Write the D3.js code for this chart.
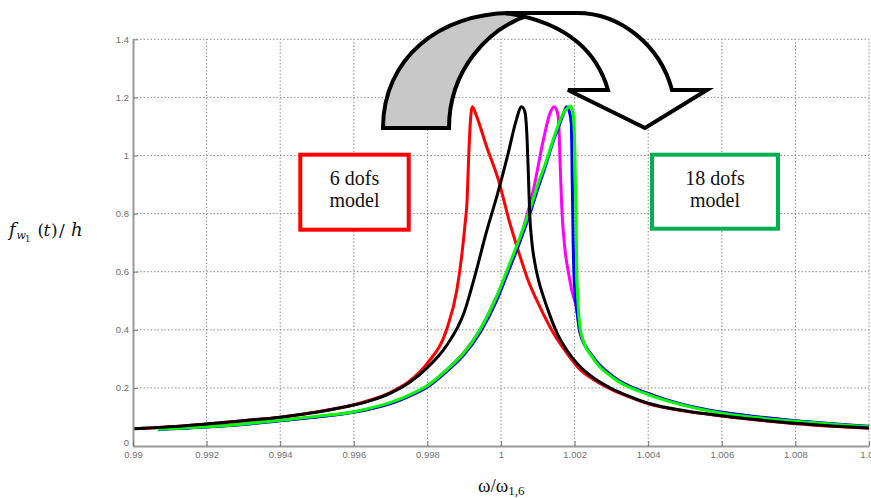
<!DOCTYPE html>
<html lang="en">
<head>
<meta charset="UTF-8">
<title>Frequency response, 6 vs 18 dofs</title>
<script src="https://d3js.org/d3.v7.min.js"></script>
<style>
  body { margin: 0; background: #fff; }
  svg { display: block; }
</style>
</head>
<body>
<svg id="chart" width="871" height="498"></svg>
<script>
// axis ticks
const xTicks = [0.99, 0.992, 0.994, 0.996, 0.998, 1, 1.002, 1.004, 1.006, 1.008, 1.01];
const xTickLabels = ["0.99", "0.992", "0.994", "0.996", "0.998", "1", "1.002", "1.004", "1.006", "1.008", "1.01"];
const yTicks = [0, 0.2, 0.4, 0.6, 0.8, 1, 1.2, 1.4];
const yTickLabels = ["0", "0.2", "0.4", "0.6", "0.8", "1", "1.2", "1.4"];

// curves: [omega/omega_1,6, f/h]
const redCurve = [
  [0.9900, 0.059], [0.9910, 0.066], [0.9920, 0.076], [0.9930, 0.087], [0.9940, 0.099],
  [0.9950, 0.117], [0.9960, 0.142], [0.9965, 0.160], [0.9970, 0.185], [0.9975, 0.222],
  [0.9980, 0.285], [0.99852, 0.400], [0.9988, 0.537], [0.99893, 0.652], [0.99902, 0.760],
  [0.99908, 0.850], [0.99912, 0.990], [0.99916, 1.100], [0.99922, 1.168], [0.99934, 1.134],
  [0.99961, 1.030], [0.99993, 0.916], [1.00024, 0.767], [1.00052, 0.652], [1.0007, 0.583],
  [1.00106, 0.478], [1.00142, 0.390], [1.00179, 0.320], [1.00215, 0.263], [1.0025, 0.230],
  [1.0030, 0.195], [1.0035, 0.168], [1.0040, 0.145], [1.0050, 0.120], [1.0060, 0.103],
  [1.0070, 0.089], [1.0080, 0.077], [1.0090, 0.068], [1.0100, 0.061]
];
const blackCurve = [
  [0.9900, 0.059], [0.9910, 0.066], [0.9920, 0.076], [0.9930, 0.087], [0.9940, 0.099],
  [0.9950, 0.117], [0.9960, 0.141], [0.9965, 0.158], [0.9970, 0.182], [0.9975, 0.218],
  [0.9980, 0.270], [0.9985, 0.342], [0.9990, 0.460], [0.9993, 0.590], [0.9996, 0.735],
  [0.9999, 0.865], [1.0002, 1.010], [1.0004, 1.115], [1.00056, 1.168], [1.00065, 1.150],
  [1.0007, 1.080], [1.00074, 0.950], [1.00078, 0.800], [1.00084, 0.700], [1.00092, 0.630],
  [1.00102, 0.570], [1.00115, 0.515], [1.0013, 0.460], [1.0015, 0.395], [1.0018, 0.328],
  [1.0021, 0.280], [1.0025, 0.236], [1.0030, 0.198], [1.0035, 0.170], [1.0040, 0.147],
  [1.0050, 0.121], [1.0060, 0.104], [1.0070, 0.090], [1.0080, 0.078], [1.0090, 0.069],
  [1.0100, 0.062]
];
const magentaCurve = [
  [0.99068, 0.057], [0.9920, 0.066], [0.9930, 0.075], [0.9940, 0.088], [0.9950, 0.101],
  [0.9960, 0.117], [0.9970, 0.148], [0.9980, 0.206], [0.99852, 0.262], [0.99898, 0.320],
  [0.99943, 0.400], [0.99988, 0.514], [1.00015, 0.592], [1.00052, 0.715], [1.00088, 0.881],
  [1.00115, 1.053], [1.00133, 1.145], [1.00144, 1.168], [1.00153, 1.150], [1.00157, 1.110],
  [1.0016, 0.996], [1.00165, 0.824], [1.00174, 0.675], [1.00185, 0.585], [1.00192, 0.537],
  [1.00205, 0.475], [1.00215, 0.388], [1.0025, 0.306], [1.00305, 0.238], [1.0040, 0.180],
  [1.0050, 0.140], [1.0060, 0.115], [1.0070, 0.099], [1.0080, 0.086], [1.0090, 0.076],
  [1.0100, 0.067]
];
const blueCurve = [
  [0.99068, 0.056], [0.9910, 0.059], [0.9920, 0.065], [0.9930, 0.074], [0.9940, 0.087],
  [0.9950, 0.100], [0.9960, 0.116], [0.9965, 0.129], [0.9970, 0.146], [0.9975, 0.171],
  [0.9980, 0.203], [0.99852, 0.256], [0.99898, 0.312], [0.99943, 0.390], [0.99988, 0.500],
  [1.00015, 0.585], [1.00052, 0.705], [1.0008, 0.805], [1.0010, 0.885], [1.0012, 0.960],
  [1.00142, 1.050], [1.0016, 1.110], [1.0017, 1.145], [1.00178, 1.168], [1.00186, 1.150],
  [1.00191, 1.111], [1.00194, 0.881], [1.00196, 0.709], [1.0020, 0.537], [1.00205, 0.480],
  [1.00215, 0.390], [1.0025, 0.307], [1.00305, 0.239], [1.0040, 0.181], [1.0050, 0.141],
  [1.0060, 0.116], [1.0070, 0.100], [1.0080, 0.087], [1.0090, 0.077], [1.0100, 0.068]
];
const greenCurve = [
  [0.99068, 0.058], [0.9910, 0.060], [0.9920, 0.066], [0.9930, 0.076], [0.9940, 0.089],
  [0.9950, 0.102], [0.9960, 0.118], [0.9965, 0.132], [0.9970, 0.150], [0.9975, 0.175],
  [0.9980, 0.208], [0.99852, 0.262], [0.99898, 0.319], [0.99943, 0.400], [0.99988, 0.514],
  [1.00015, 0.600], [1.00052, 0.720], [1.0008, 0.820], [1.0010, 0.900], [1.0012, 0.970],
  [1.00142, 1.055], [1.00169, 1.145], [1.00183, 1.166], [1.00189, 1.170], [1.00196, 1.145],
  [1.00201, 0.996], [1.00204, 0.767], [1.00206, 0.600], [1.0021, 0.480], [1.00218, 0.385],
  [1.0025, 0.302], [1.00305, 0.234], [1.0040, 0.177], [1.0050, 0.139], [1.0060, 0.113],
  [1.0070, 0.097], [1.0080, 0.085], [1.0090, 0.075], [1.0100, 0.066]
];

const series = [
  { data: redCurve, color: "#ff0000" },
  { data: magentaCurve, color: "#ff00ff" },
  { data: blueCurve, color: "#0000ff" },
  { data: greenCurve, color: "#00ff00" },
  { data: blackCurve, color: "#000000" }
];

const svg = d3.select("#chart");
const plotLeft = 133, plotRight = 869, plotTop = 39.3, plotBottom = 446;

const x = d3.scaleLinear().domain([0.99, 1.01]).range([plotLeft, plotRight]);
const y = d3.scaleLinear().domain([0, 1.4]).range([plotBottom, plotTop]);

svg.append("rect").attr("width", 871).attr("height", 498).attr("fill", "#fff");

// dotted grid
const grid = svg.append("g").attr("stroke", "#8f8f8f").attr("stroke-width", 1)
  .attr("stroke-dasharray", "1.5,2");
grid.selectAll("line.v").data(xTicks.slice(1)).join("line")
  .attr("x1", d => x(d)).attr("x2", d => x(d))
  .attr("y1", plotBottom).attr("y2", plotTop);
grid.selectAll("line.h").data(yTicks.slice(1)).join("line")
  .attr("x1", plotLeft).attr("x2", plotRight)
  .attr("y1", d => y(d)).attr("y2", d => y(d));

// curves
const line = d3.line().x(d => x(d[0])).y(d => y(d[1])).curve(d3.curveMonotoneX);
svg.append("g").selectAll("path").data(series).join("path")
  .attr("d", d => line(d.data))
  .attr("fill", "none")
  .attr("stroke", d => d.color)
  .attr("stroke-width", 3)
  .attr("stroke-linejoin", "round");

// axes
const axisColor = "#9a9a9a";
const yAxis = svg.append("g").attr("transform", `translate(${plotLeft},0)`)
  .call(d3.axisLeft(y).tickValues(yTicks).tickFormat((d, i) => yTickLabels[i])
    .tickSize(-5).tickSizeOuter(0).tickPadding(4));
const xAxis = svg.append("g").attr("transform", `translate(0,${plotBottom})`)
  .call(d3.axisBottom(x).tickValues(xTicks).tickFormat((d, i) => xTickLabels[i])
    .tickSize(-5).tickSizeOuter(0).tickPadding(5));
[xAxis, yAxis].forEach(a => {
  a.select(".domain").attr("stroke", axisColor).attr("stroke-width", 2);
  a.selectAll(".tick line").attr("stroke", "#777").attr("stroke-width", 1);
  a.selectAll(".tick text").attr("fill", "#6f6f6f")
    .attr("font-family", "Liberation Sans, Arial, sans-serif").attr("font-size", 9.5);
});
// the "0" label sits just above the x labels
yAxis.selectAll(".tick text").filter(d => d === 0).attr("dy", "-0.05em");

// model boxes
const boxes = [
  { x: 300.3, y: 154.7, w: 108.4, h: 75, color: "#ff0000", cx: 354.5, lines: ["6 dofs", "model"] },
  { x: 652, y: 154.7, w: 126, h: 74, color: "#00b050", cx: 715, lines: ["18 dofs", "model"] }
];
const boxG = svg.append("g").selectAll("g").data(boxes).join("g");
boxG.append("rect")
  .attr("x", d => d.x).attr("y", d => d.y).attr("width", d => d.w).attr("height", d => d.h)
  .attr("fill", "#fff").attr("stroke", d => d.color).attr("stroke-width", 4);
boxG.each(function (d) {
  d3.select(this).selectAll("text").data(d.lines).join("text")
    .attr("x", d.cx).attr("y", (t, i) => 184.5 + i * 22.5)
    .attr("text-anchor", "middle")
    .attr("font-family", "Liberation Serif, Times New Roman, serif")
    .attr("font-size", 20).attr("fill", "#111")
    .text(t => t);
});

// curved arrow (back side grey, front side white)
const arrow = svg.append("g").attr("stroke", "#000").attr("stroke-width", 4)
  .attr("stroke-linejoin", "miter");
arrow.append("path")
  .attr("d", "M383,128 C383,58 440,13 512,13 L532,14 C486,28 449,72 449,128 Z")
  .attr("fill", "#c8c8c8");
arrow.append("path")
  .attr("d", "M505,13 L577,13 C620,13 660,45 672,90 L707,90 L645,128 L568,90 L608,90 C598,55 570,22 505,13 Z")
  .attr("fill", "#fff");

// axis titles
const serif = "Liberation Serif, Times New Roman, serif";
const mathSerif = "DejaVu Serif, serif";
const yl = svg.append("text").attr("font-family", mathSerif).attr("fill", "#111");
[
  { t: "f", x: 9, y: 236, s: 18, it: true },
  { t: "w", x: 16.5, y: 239, s: 11, it: true },
  { t: "1", x: 25, y: 242, s: 8.5, it: false },
  { t: "(", x: 37.5, y: 236, s: 17, it: false },
  { t: "t", x: 43.5, y: 236, s: 17, it: true },
  { t: ")", x: 51, y: 236, s: 17, it: false },
  { t: "/", x: 59, y: 236, s: 17, it: false },
  { t: "h", x: 71, y: 236, s: 18, it: true }
].forEach(p => {
  yl.append("tspan").attr("x", p.x).attr("y", p.y).attr("font-size", p.s)
    .attr("font-style", p.it ? "italic" : "normal").text(p.t);
});

const xl = svg.append("text").attr("x", 478).attr("y", 492)
  .attr("font-family", serif).attr("font-size", 19).attr("fill", "#111");
xl.append("tspan").text("ω/ω");
xl.append("tspan").attr("font-size", 13).attr("dy", 3).text("1,6");
</script>
</body>
</html>
